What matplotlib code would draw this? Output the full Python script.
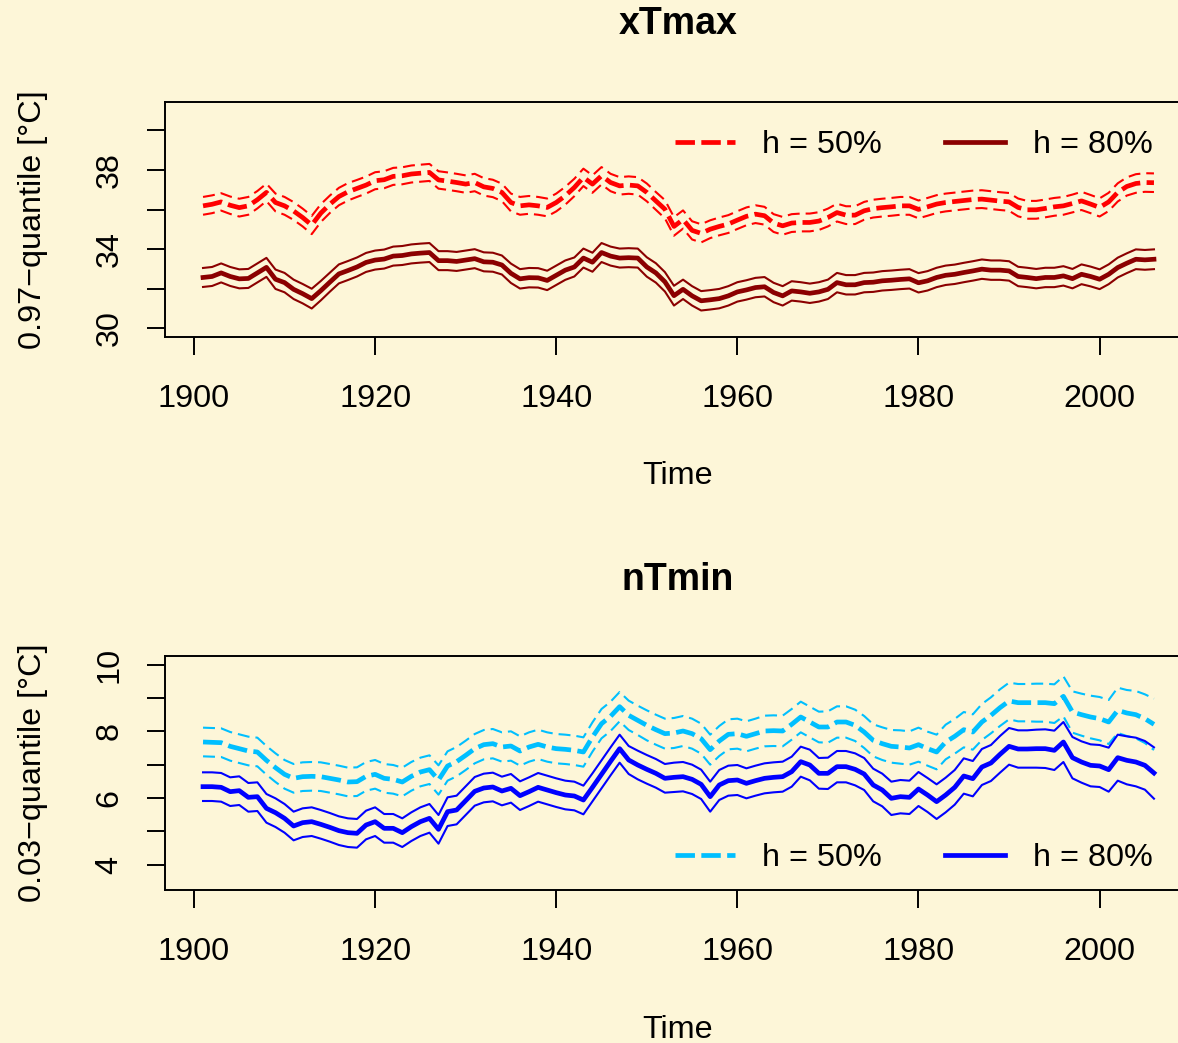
import numpy as np
import matplotlib
matplotlib.use("Agg")
import matplotlib.pyplot as plt
from matplotlib.lines import Line2D

plt.rcParams['font.family'] = ['Liberation Sans', 'DejaVu Sans']
plt.rcParams['lines.scale_dashes'] = False

# ---------------- data ----------------
years = np.arange(1901, 2007)

# xTmax: 0.97-quantile, centre lines
xTmax_h50 = [36.19, 36.27, 36.39, 36.22, 36.10, 36.19, 36.50, 36.87, 36.36, 36.19,
             35.93, 35.60, 35.22, 35.82, 36.27, 36.66, 36.90, 37.07, 37.24, 37.46,
             37.51, 37.68, 37.71, 37.80, 37.84, 37.88, 37.50, 37.44, 37.37, 37.29,
             37.37, 37.15, 37.07, 36.87, 36.36, 36.19, 36.24, 36.19, 36.11, 36.36,
             36.70, 37.12, 37.63, 37.29, 37.71, 37.37, 37.20, 37.24, 37.20, 36.87,
             36.44, 36.02, 35.15, 35.50, 34.95, 34.80, 35.01, 35.15, 35.27, 35.47,
             35.66, 35.77, 35.69, 35.32, 35.18, 35.32, 35.35, 35.35, 35.42, 35.60,
             35.85, 35.72, 35.72, 35.94, 36.05, 36.10, 36.14, 36.19, 36.19, 36.01,
             36.14, 36.28, 36.36, 36.41, 36.46, 36.51, 36.53, 36.48, 36.43, 36.39,
             36.11, 35.99, 35.99, 36.06, 36.14, 36.19, 36.31, 36.44, 36.28, 36.11,
             36.39, 36.87, 37.17, 37.32, 37.37, 37.36]
xTmax_h80 = [32.57, 32.62, 32.80, 32.62, 32.50, 32.52, 32.80, 33.08, 32.48, 32.31,
             31.97, 31.75, 31.50, 31.90, 32.33, 32.75, 32.92, 33.10, 33.33, 33.45,
             33.50, 33.65, 33.68, 33.76, 33.80, 33.83, 33.42, 33.42, 33.38, 33.45,
             33.52, 33.36, 33.34, 33.20, 32.78, 32.50, 32.56, 32.55, 32.42, 32.68,
             32.94, 33.10, 33.55, 33.34, 33.83, 33.65, 33.55, 33.57, 33.55, 33.10,
             32.80, 32.35, 31.65, 31.97, 31.64, 31.39, 31.44, 31.50, 31.64, 31.84,
             31.94, 32.06, 32.10, 31.81, 31.64, 31.89, 31.84, 31.77, 31.84, 31.97,
             32.31, 32.20, 32.20, 32.31, 32.33, 32.40, 32.43, 32.47, 32.50, 32.30,
             32.40, 32.57, 32.68, 32.73, 32.82, 32.90, 32.99, 32.94, 32.94, 32.90,
             32.62, 32.57, 32.51, 32.57, 32.57, 32.65, 32.51, 32.73, 32.62, 32.48,
             32.73, 33.07, 33.29, 33.49, 33.46, 33.49]
# half widths of the bands around the centre lines
xTmax_hw50 = [0.45, 0.45, 0.44, 0.44, 0.45, 0.45, 0.44, 0.44, 0.45, 0.45,
              0.45, 0.45, 0.46, 0.45, 0.44, 0.44, 0.44, 0.43, 0.43, 0.43,
              0.43, 0.43, 0.43, 0.43, 0.43, 0.43, 0.44, 0.44, 0.44, 0.44,
              0.44, 0.44, 0.44, 0.44, 0.45, 0.45, 0.45, 0.45, 0.45, 0.45,
              0.45, 0.44, 0.44, 0.44, 0.44, 0.44, 0.44, 0.44, 0.44, 0.45,
              0.45, 0.46, 0.47, 0.46, 0.46, 0.46, 0.45, 0.45, 0.45, 0.45,
              0.45, 0.45, 0.45, 0.45, 0.45, 0.45, 0.45, 0.45, 0.45, 0.45,
              0.45, 0.45, 0.45, 0.45, 0.45, 0.45, 0.45, 0.45, 0.45, 0.45,
              0.45, 0.45, 0.45, 0.45, 0.45, 0.45, 0.45, 0.45, 0.45, 0.45,
              0.45, 0.45, 0.45, 0.45, 0.45, 0.45, 0.45, 0.46, 0.46, 0.46,
              0.46, 0.46, 0.46, 0.47, 0.47, 0.47]
xTmax_hw80 = [0.48, 0.48, 0.48, 0.48, 0.48, 0.48, 0.48, 0.48, 0.49, 0.49,
              0.49, 0.49, 0.50, 0.49, 0.48, 0.48, 0.48, 0.48, 0.48, 0.48,
              0.48, 0.48, 0.48, 0.48, 0.48, 0.48, 0.48, 0.48, 0.48, 0.48,
              0.48, 0.48, 0.48, 0.48, 0.49, 0.49, 0.49, 0.49, 0.49, 0.49,
              0.49, 0.48, 0.48, 0.48, 0.48, 0.48, 0.48, 0.48, 0.48, 0.49,
              0.49, 0.49, 0.50, 0.49, 0.49, 0.49, 0.49, 0.49, 0.49, 0.49,
              0.49, 0.49, 0.49, 0.49, 0.49, 0.49, 0.49, 0.49, 0.49, 0.49,
              0.49, 0.49, 0.49, 0.49, 0.49, 0.49, 0.49, 0.49, 0.49, 0.49,
              0.49, 0.49, 0.49, 0.49, 0.49, 0.49, 0.49, 0.49, 0.49, 0.49,
              0.49, 0.49, 0.49, 0.49, 0.49, 0.49, 0.49, 0.50, 0.50, 0.50,
              0.50, 0.50, 0.50, 0.50, 0.50, 0.50]

# nTmin: 0.03-quantile, centre lines
nTmin_h50 = [7.68, 7.67, 7.66, 7.55, 7.48, 7.41, 7.38, 7.13, 6.91, 6.71,
             6.59, 6.64, 6.65, 6.64, 6.59, 6.54, 6.48, 6.49, 6.65, 6.71,
             6.59, 6.56, 6.48, 6.65, 6.78, 6.85, 6.54, 6.96, 7.09, 7.28,
             7.48, 7.60, 7.63, 7.53, 7.56, 7.41, 7.53, 7.61, 7.53, 7.48,
             7.46, 7.43, 7.38, 7.83, 8.23, 8.45, 8.74, 8.48, 8.33, 8.18,
             8.05, 7.93, 7.95, 8.01, 7.93, 7.78, 7.45, 7.71, 7.91, 7.93,
             7.85, 7.93, 8.01, 8.02, 8.01, 8.21, 8.43, 8.28, 8.13, 8.13,
             8.28, 8.28, 8.18, 7.98, 7.73, 7.63, 7.55, 7.53, 7.50, 7.60,
             7.48, 7.38, 7.68, 7.85, 8.05, 7.98, 8.28, 8.48, 8.71, 8.91,
             8.86, 8.86, 8.86, 8.86, 8.83, 9.05, 8.58, 8.50, 8.43, 8.38,
             8.28, 8.63, 8.55, 8.50, 8.38, 8.21]
nTmin_h80 = [6.34, 6.34, 6.32, 6.19, 6.22, 6.02, 6.04, 5.69, 5.56, 5.39,
             5.16, 5.26, 5.29, 5.21, 5.12, 5.02, 4.96, 4.94, 5.19, 5.29,
             5.09, 5.09, 4.96, 5.14, 5.29, 5.39, 5.06, 5.59, 5.64, 5.92,
             6.20, 6.30, 6.33, 6.21, 6.29, 6.07, 6.19, 6.32, 6.24, 6.16,
             6.09, 6.06, 5.94, 6.32, 6.71, 7.10, 7.48, 7.14, 6.99, 6.86,
             6.74, 6.59, 6.62, 6.64, 6.56, 6.41, 6.04, 6.39, 6.52, 6.54,
             6.44, 6.52, 6.59, 6.62, 6.64, 6.79, 7.09, 6.99, 6.74, 6.74,
             6.94, 6.94, 6.86, 6.72, 6.39, 6.24, 5.99, 6.04, 6.02, 6.27,
             6.09, 5.89, 6.09, 6.32, 6.66, 6.58, 6.93, 7.05, 7.31, 7.55,
             7.47, 7.47, 7.48, 7.48, 7.43, 7.68, 7.21, 7.08, 6.98, 6.96,
             6.85, 7.21, 7.13, 7.08, 6.98, 6.75]
nTmin_hw50 = [0.43, 0.43, 0.43, 0.43, 0.43, 0.43, 0.43, 0.43, 0.43, 0.43,
              0.43, 0.43, 0.43, 0.43, 0.43, 0.43, 0.43, 0.43, 0.43, 0.43,
              0.43, 0.43, 0.43, 0.43, 0.43, 0.43, 0.44, 0.44, 0.44, 0.44,
              0.44, 0.44, 0.44, 0.44, 0.44, 0.44, 0.44, 0.44, 0.44, 0.44,
              0.44, 0.44, 0.44, 0.44, 0.44, 0.44, 0.44, 0.44, 0.44, 0.45,
              0.45, 0.45, 0.45, 0.45, 0.45, 0.45, 0.45, 0.45, 0.45, 0.45,
              0.45, 0.45, 0.46, 0.46, 0.46, 0.46, 0.46, 0.46, 0.46, 0.47,
              0.47, 0.47, 0.47, 0.48, 0.48, 0.49, 0.49, 0.50, 0.50, 0.51,
              0.51, 0.52, 0.52, 0.52, 0.53, 0.53, 0.54, 0.54, 0.55, 0.55,
              0.56, 0.56, 0.57, 0.57, 0.58, 0.60, 0.62, 0.63, 0.64, 0.65,
              0.66, 0.68, 0.69, 0.71, 0.73, 0.77]
nTmin_hw80 = [0.43, 0.43, 0.43, 0.43, 0.43, 0.43, 0.43, 0.43, 0.43, 0.43,
              0.43, 0.43, 0.43, 0.43, 0.43, 0.43, 0.43, 0.43, 0.43, 0.43,
              0.43, 0.43, 0.43, 0.43, 0.43, 0.43, 0.43, 0.43, 0.43, 0.43,
              0.43, 0.43, 0.43, 0.43, 0.43, 0.43, 0.43, 0.43, 0.43, 0.43,
              0.43, 0.43, 0.43, 0.42, 0.42, 0.42, 0.42, 0.42, 0.43, 0.43,
              0.43, 0.43, 0.44, 0.44, 0.44, 0.44, 0.45, 0.45, 0.45, 0.45,
              0.45, 0.45, 0.45, 0.45, 0.45, 0.45, 0.45, 0.46, 0.46, 0.47,
              0.47, 0.47, 0.48, 0.48, 0.49, 0.49, 0.50, 0.50, 0.50, 0.51,
              0.51, 0.52, 0.52, 0.52, 0.53, 0.53, 0.54, 0.54, 0.55, 0.55,
              0.56, 0.56, 0.57, 0.58, 0.59, 0.60, 0.62, 0.62, 0.63, 0.63,
              0.66, 0.69, 0.72, 0.73, 0.73, 0.77]

xticks = [1900, 1920, 1940, 1960, 1980, 2000]
top_yticks = [30, 32, 34, 36, 38, 40]
top_ylabels = ['30', '', '34', '', '38', '']
bot_yticks = [4, 5, 6, 7, 8, 9, 10]
bot_ylabels = ['4', '', '6', '', '8', '', '10']
legend_labels = ['h = 50%', 'h = 80%']

# ---------------- style ----------------
W, H = 1178, 1043
BG = '#FDF6D8'
FS = 23.3
THIN, THICK = 1.5, 3.4
DASH_THIN = (0, (8.6, 4.3))
DASH_THICK = (0, (14.0, 4.6))

fig = plt.figure(figsize=(W / 100, H / 100), dpi=100, facecolor=BG)


def px_axes(left, top, right, bottom):
    return [left / W, 1 - bottom / H, (right - left) / W, (bottom - top) / H]


def draw_panel(ax, c50, hw50, c80, hw80, col50, col80, ylim, yticks, ylabels,
               title, ylabel, title_y, legend_y):
    ax.set_facecolor(BG)
    c50 = np.asarray(c50); hw50 = np.asarray(hw50)
    c80 = np.asarray(c80); hw80 = np.asarray(hw80)
    ax.plot(years, c50 + hw50, color=col50, lw=THIN, linestyle=DASH_THIN)
    ax.plot(years, c50 - hw50, color=col50, lw=THIN, linestyle=DASH_THIN)
    ax.plot(years, c50, color=col50, lw=THICK, linestyle=DASH_THICK)
    ax.plot(years, c80 + hw80, color=col80, lw=THIN)
    ax.plot(years, c80 - hw80, color=col80, lw=THIN)
    ax.plot(years, c80, color=col80, lw=THICK)

    ax.set_xlim(1896.8, 2010.2)
    ax.set_ylim(*ylim)
    ax.set_xticks(xticks)
    ax.set_xticklabels([str(t) for t in xticks])
    ax.set_yticks(yticks)
    ax.set_yticklabels(ylabels, rotation=90, va='center')
    ax.tick_params(axis='both', direction='out', length=13, width=1.4,
                   labelsize=FS, colors='black')
    ax.tick_params(axis='x', pad=20.5)
    ax.tick_params(axis='y', pad=16)
    for s in ax.spines.values():
        s.set_linewidth(1.4)
        s.set_color('black')

    ax.set_xlabel('Time', fontsize=FS)
    ax.set_ylabel(ylabel, fontsize=FS)
    ax.yaxis.set_label_coords(-0.114, 0.5)

    fig.text(678 / W, 1 - title_y / H, title, fontsize=27, fontweight='bold',
             ha='center', va='center')

    handles = [Line2D([], [], color=col50, lw=THICK, linestyle=DASH_THICK),
               Line2D([], [], color=col80, lw=THICK)]
    ax.legend(handles, legend_labels, loc='center left',
              bbox_to_anchor=(675 / W, 1 - legend_y / H),
              bbox_transform=fig.transFigure, ncol=2, frameon=False,
              fontsize=FS, handlelength=1.85, handletextpad=0.85,
              columnspacing=1.95, borderpad=0, borderaxespad=0)


ax1 = fig.add_axes(px_axes(165, 102, 1192, 337))
ax2 = fig.add_axes(px_axes(165, 656, 1192, 890))

draw_panel(ax1, xTmax_h50, xTmax_hw50, xTmax_h80, xTmax_hw80, '#FF0000', '#8B0000',
           (29.56, 41.44), top_yticks, top_ylabels, 'xTmax',
           '0.97\u2212quantile [°C]', 24, 145)
draw_panel(ax2, nTmin_h50, nTmin_hw50, nTmin_h80, nTmin_hw80, '#00BFFF', '#0000FF',
           (3.24, 10.26), bot_yticks, bot_ylabels, 'nTmin',
           '0.03\u2212quantile [°C]', 580, 858)

ax1.xaxis.set_label_coords(0.4995, (337 - 461.5) / 235)
ax2.xaxis.set_label_coords(0.4995, (890 - 1014.5) / 234)

fig.savefig('out.png', dpi=100, facecolor=BG)
